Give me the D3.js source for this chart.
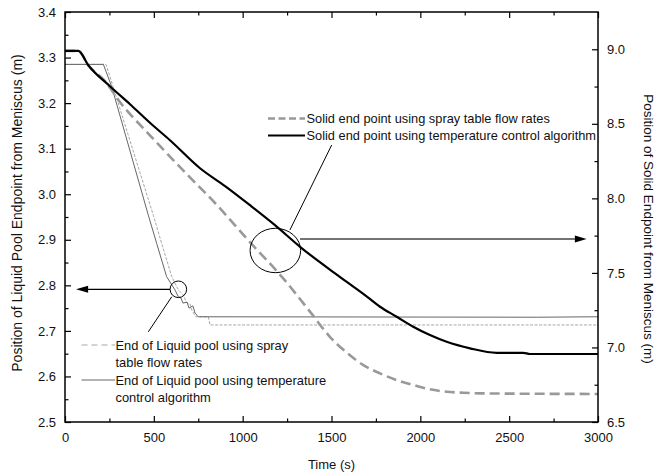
<!DOCTYPE html>
<html><head><meta charset="utf-8">
<script src="https://cdn.jsdelivr.net/npm/d3@7"></script>
<style>body{margin:0;background:#fff}svg{display:block}text{font-family:"Liberation Sans",Arial,sans-serif;fill:#111}</style>
</head><body><svg id="c" width="666" height="476"></svg>
<script>
// ---- data ----
// Solid end point, temperature control algorithm (right axis)
const solidTempT = [0,75,131,253,366,478,591,760,901,1041,1182,1323,1520,1586,1679,1773,1867,1960,2054,2148,2280,2430,2580,2617,3000];
const solidTempV = [8.989,8.989,8.893,8.752,8.631,8.507,8.390,8.202,8.082,7.954,7.820,7.675,7.497,7.440,7.360,7.273,7.206,7.139,7.083,7.038,6.994,6.964,6.964,6.956,6.956];
// Solid end point, spray table flow rates (right axis)
const solidSprayT = [0,75,131,225,310,478,664,856,1041,1227,1379,1492,1586,1679,1773,1867,1960,2054,2148,2242,2336,3000];
const solidSprayV = [8.989,8.989,8.893,8.786,8.645,8.423,8.189,7.954,7.706,7.465,7.240,7.070,6.965,6.882,6.826,6.781,6.748,6.719,6.703,6.696,6.692,6.688];
// End of liquid pool, temperature control algorithm (left axis)
const poolTempT = [0,216,263,469,516,572,619,638,653,664,687,698,720,732,750,2655,3000];
const poolTempV = [3.285,3.285,3.236,2.954,2.892,2.819,2.790,2.775,2.772,2.761,2.763,2.750,2.755,2.739,2.731,2.730,2.731];
// End of liquid pool, spray table flow rates (left axis)
const poolSprayT = [0,231,253,497,544,601,638,670,681,704,713,737,807,816,3000];
const poolSprayV = [3.285,3.285,3.258,2.954,2.892,2.819,2.790,2.777,2.763,2.759,2.746,2.731,2.731,2.713,2.713];

const xTicks = [0,500,1000,1500,2000,2500,3000];
const xMinor = [250,750,1250,1750,2250,2750];
const yLTicks = [2.5,2.6,2.7,2.8,2.9,3.0,3.1,3.2,3.3,3.4];
const yLMinor = [2.55,2.65,2.75,2.85,2.95,3.05,3.15,3.25,3.35];
const yRTicks = [6.5,7.0,7.5,8.0,8.5,9.0];
const yRMinor = [6.75,7.25,7.75,8.25,8.75];

const xLabel = "Time (s)";
const yLLabel = "Position of Liquid Pool Endpoint from Meniscus (m)";
const yRLabel = "Position of Solid Endpoint from Meniscus (m)";
const legTop = ["Solid end point using spray table flow rates","Solid end point using temperature control algorithm"];
const legBot = [["End of Liquid pool using spray","table flow rates"],["End of Liquid pool using temperature","control algorithm"]];

// ---- layout ----
const L=65,R=598,T=12,B=422;
const svg=d3.select("#c");
const x=d3.scaleLinear().domain([0,3000]).range([L,R]);
const yL=d3.scaleLinear().domain([2.5,3.4]).range([B,T]);
const yR=d3.scaleLinear().domain([6.5,9.25]).range([B,T]);

function zip(a,b){return a.map((t,i)=>[t,b[i]]);}
const lineL=d3.line().x(d=>x(d[0])).y(d=>yL(d[1]));
const lineR=d3.line().x(d=>x(d[0])).y(d=>yR(d[1])).curve(d3.curveMonotoneX);

const g=svg.append("g");
g.append("path").attr("d",lineL(zip(poolSprayT,poolSprayV))).attr("fill","none").attr("stroke","#a8a8a8").attr("stroke-width",1).attr("stroke-dasharray","3,1.5");
g.append("path").attr("d",lineL(zip(poolTempT,poolTempV))).attr("fill","none").attr("stroke","#666").attr("stroke-width",1);
g.append("path").attr("d",lineR(zip(solidSprayT,solidSprayV))).attr("fill","none").attr("stroke","#999").attr("stroke-width",2.6).attr("stroke-dasharray","10,5");
g.append("path").attr("d",lineR(zip(solidTempT,solidTempV))).attr("fill","none").attr("stroke","#000").attr("stroke-width",2.2);

// ---- axes ----
function styleAxis(sel){sel.select(".domain").remove();sel.selectAll(".tick line").attr("stroke","#000").attr("stroke-width",1.2);sel.selectAll("text").attr("font-size",13).attr("fill","#111").style("font-family","'Liberation Sans',Arial,sans-serif");}
svg.append("g").attr("transform",`translate(0,${B})`).call(d3.axisBottom(x).tickValues(xTicks).tickSize(-6).tickPadding(11).tickFormat(d3.format("d"))).call(styleAxis);
svg.append("g").attr("transform",`translate(0,${B})`).call(d3.axisBottom(x).tickValues(xMinor).tickSize(-3.5).tickFormat("")).call(styleAxis);
svg.append("g").attr("transform",`translate(0,${T})`).call(d3.axisTop(x).tickValues(xTicks).tickSize(-6).tickFormat("")).call(styleAxis);
svg.append("g").attr("transform",`translate(0,${T})`).call(d3.axisTop(x).tickValues(xMinor).tickSize(-3.5).tickFormat("")).call(styleAxis);
svg.append("g").attr("transform",`translate(${L},0)`).call(d3.axisLeft(yL).tickValues(yLTicks).tickSize(-6).tickPadding(9).tickFormat(d3.format(".1f"))).call(styleAxis);
svg.append("g").attr("transform",`translate(${L},0)`).call(d3.axisLeft(yL).tickValues(yLMinor).tickSize(-3.5).tickFormat("")).call(styleAxis);
svg.append("g").attr("transform",`translate(${R},0)`).call(d3.axisRight(yR).tickValues(yRTicks).tickSize(-6).tickPadding(9).tickFormat(d3.format(".1f"))).call(styleAxis);
svg.append("g").attr("transform",`translate(${R},0)`).call(d3.axisRight(yR).tickValues(yRMinor).tickSize(-3.5).tickFormat("")).call(styleAxis);
svg.append("rect").attr("x",L).attr("y",T).attr("width",R-L).attr("height",B-T).attr("fill","none").attr("stroke","#000").attr("stroke-width",1.5);

// axis titles
svg.append("text").attr("x",(L+R)/2).attr("y",469).attr("text-anchor","middle").attr("font-size",13).text(xLabel);
svg.append("text").attr("transform",`translate(22,${(T+B)/2-4}) rotate(-90)`).attr("text-anchor","middle").attr("font-size",14).text(yLLabel);
svg.append("text").attr("transform",`translate(644,${(T+B)/2+12}) rotate(90)`).attr("text-anchor","middle").attr("font-size",13.5).text(yRLabel);

// ---- annotations ----
const ann=svg.append("g").attr("fill","none");
ann.append("ellipse").attr("cx",x(1184)).attr("cy",yL(2.8765)).attr("rx",25.3).attr("ry",22.2).attr("stroke","#000").attr("stroke-width",1);
ann.append("line").attr("x1",x(1323)).attr("y1",yL(2.9017)).attr("x2",x(2870)).attr("y2",yL(2.9017)).attr("stroke","#444").attr("stroke-width",1.6);
ann.append("path").attr("d",`M${x(2936)},${yL(2.9017)}L${x(2870)},${yL(2.9017)-3.5}L${x(2870)},${yL(2.9017)+3.5}Z`).attr("fill","#000").attr("stroke","none");
ann.append("line").attr("x1",x(1266)).attr("y1",yL(2.9215)).attr("x2",x(1501)).attr("y2",yL(3.108)).attr("stroke","#000").attr("stroke-width",1);
ann.append("circle").attr("cx",x(638)).attr("cy",yL(2.7913)).attr("r",8.3).attr("stroke","#000").attr("stroke-width",1);
ann.append("line").attr("x1",x(591)).attr("y1",yL(2.7913)).attr("x2",x(125)).attr("y2",yL(2.7913)).attr("stroke","#000").attr("stroke-width",1.2);
ann.append("path").attr("d",`M${x(62)},${yL(2.7913)}L${x(130)},${yL(2.7913)-3.5}L${x(130)},${yL(2.7913)+3.5}Z`).attr("fill","#000").attr("stroke","none");
ann.append("line").attr("x1",x(601)).attr("y1",yL(2.775)).attr("x2",x(469)).attr("y2",yL(2.698)).attr("stroke","#000").attr("stroke-width",1);

// ---- legends ----
const lt=svg.append("g");
lt.append("line").attr("x1",268).attr("x2",305).attr("y1",118.5).attr("y2",118.5).attr("stroke","#999").attr("stroke-width",2.5).attr("stroke-dasharray","7,3.5");
lt.append("line").attr("x1",268).attr("x2",305).attr("y1",135.5).attr("y2",135.5).attr("stroke","#000").attr("stroke-width",2.2);
lt.selectAll("text").data(legTop).join("text").attr("x",306.5).attr("y",(d,i)=>118.5+i*17).attr("dy","0.35em").attr("font-size",12.8).text(d=>d);

const lb=svg.append("g");
lb.append("line").attr("x1",81.5).attr("x2",115).attr("y1",345).attr("y2",345).attr("stroke","#a8a8a8").attr("stroke-width",1).attr("stroke-dasharray","6,4");
lb.append("line").attr("x1",81.5).attr("x2",115).attr("y1",380).attr("y2",380).attr("stroke","#666").attr("stroke-width",1);
legBot.forEach((lines,i)=>{lines.forEach((s,j)=>{lb.append("text").attr("x",115.5).attr("y",345+i*35+j*17.7).attr("dy","0.35em").attr("font-size",12.9).text(s);});});
</script></body></html>
